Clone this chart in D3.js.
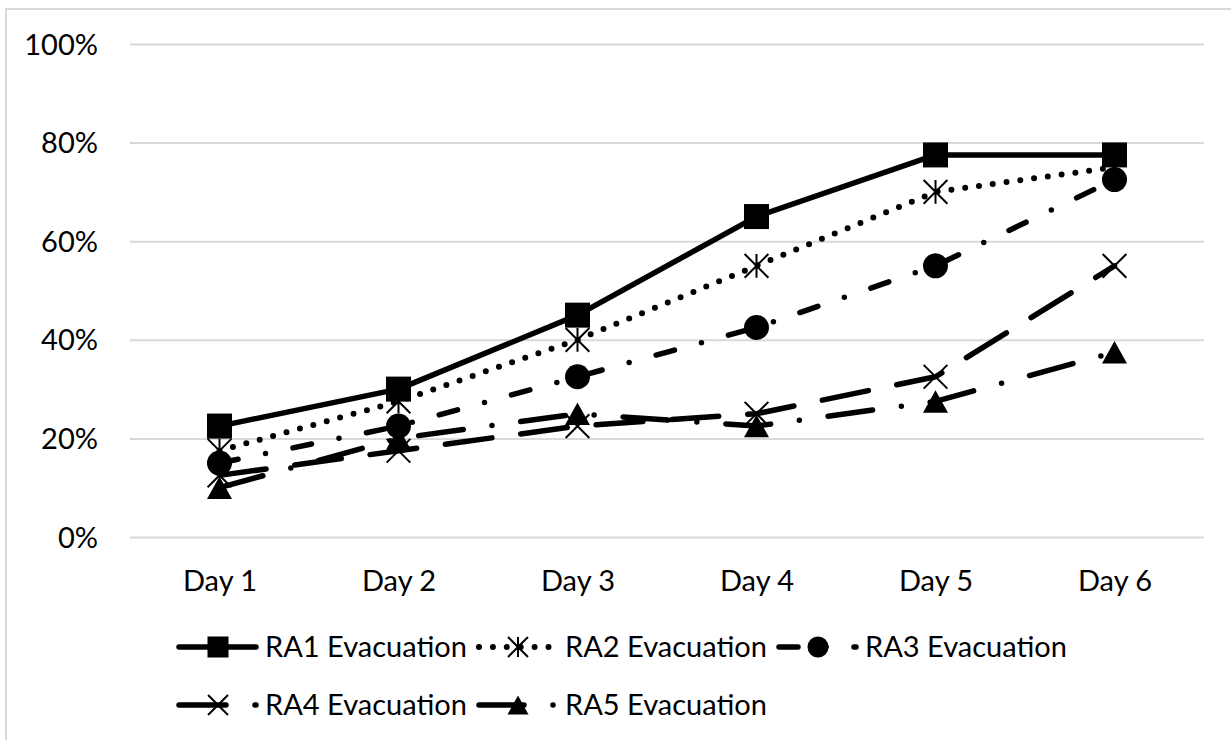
<!DOCTYPE html>
<html>
<head>
<meta charset="utf-8">
<script src="https://cdn.jsdelivr.net/npm/d3@7"></script>
<style>
  body { margin: 0; background: #fff; }
  svg { display: block; }
  text { font-family: Lato, "Open Sans", sans-serif; fill: #000; }
</style>
</head>
<body>
<div id="chart"></div>
<script>
// chart values
var days = ["Day 1", "Day 2", "Day 3", "Day 4", "Day 5", "Day 6"];
var seriesNames = ["RA1 Evacuation", "RA2 Evacuation", "RA3 Evacuation", "RA4 Evacuation", "RA5 Evacuation"];
var ra1 = [0.225, 0.30, 0.45, 0.65, 0.775, 0.775];
var ra2 = [0.175, 0.275, 0.40, 0.55, 0.70, 0.75];
var ra3 = [0.15, 0.225, 0.325, 0.425, 0.55, 0.725];
var ra4 = [0.125, 0.175, 0.225, 0.25, 0.325, 0.55];
var ra5 = [0.10, 0.20, 0.25, 0.225, 0.275, 0.375];
var yTicks = [0, 0.2, 0.4, 0.6, 0.8, 1.0];

var seriesValues = [ra1, ra2, ra3, ra4, ra5];

// line look per series
var styles = [
  {dash: null,            marker: "square"},
  {dash: "0 13.9",        marker: "asterisk"},
  {dash: "19 28 0 28",    marker: "circle"},
  {dash: "47 29",         marker: "x"},
  {dash: "45 29 0 29",    marker: "triangle"}
];

var W = 1231, H = 740;
var plotLeft = 130, plotRight = 1204, plotTop = 44, plotBottom = 537;

var svg = d3.select("#chart").append("svg")
    .attr("width", W)
    .attr("height", H);

// chart frame
svg.append("rect")
    .attr("x", 6).attr("y", 9)
    .attr("width", 1240).attr("height", 760)
    .attr("fill", "#fff")
    .attr("stroke", "#d9d9d9")
    .attr("stroke-width", 2);

var x = d3.scalePoint()
    .domain(days)
    .range([plotLeft, plotRight])
    .padding(0.5);

var y = d3.scaleLinear()
    .domain([0, 1])
    .range([plotBottom, plotTop]);

var yAxis = d3.axisLeft(y)
    .tickValues(yTicks)
    .tickFormat(d3.format(".0%"))
    .tickSize(-(plotRight - plotLeft))
    .tickPadding(32);

var gy = svg.append("g")
    .attr("transform", "translate(" + plotLeft + ",0)")
    .call(yAxis);
gy.select(".domain").remove();
gy.selectAll(".tick line")
    .attr("stroke", "#d9d9d9")
    .attr("stroke-width", 2);
gy.selectAll(".tick text")
    .attr("font-size", 29)
    .attr("font-family", "Lato")
    .attr("dy", "0.35em");

var xAxis = d3.axisBottom(x)
    .tickSize(0)
    .tickPadding(0);

var gx = svg.append("g")
    .attr("transform", "translate(0," + plotBottom + ")")
    .call(xAxis);
gx.select(".domain").remove();
gx.selectAll(".tick text")
    .attr("font-size", 29)
    .attr("font-family", "Lato")
    .attr("y", 54)
    .attr("dy", 0);

function drawMarker(g, type, s) {
  var h = s / 2;
  if (type == "square") {
    g.append("rect").attr("x", -h).attr("y", -h).attr("width", s).attr("height", s).attr("fill", "#000");
  } else if (type == "circle") {
    g.append("circle").attr("r", h).attr("fill", "#000");
  } else if (type == "triangle") {
    g.append("path")
      .attr("d", "M0," + (-h * 0.9) + "L" + h + "," + (h * 0.9) + "L" + (-h) + "," + (h * 0.9) + "Z")
      .attr("fill", "#000");
  } else {
    var k = h * 0.95;
    var p = "M" + (-k) + "," + (-k) + "L" + k + "," + k + "M" + (-k) + "," + k + "L" + k + "," + (-k);
    if (type == "asterisk") p += "M0," + (-k) + "L0," + k;
    g.append("path").attr("d", p).attr("stroke", "#000").attr("stroke-width", 2).attr("fill", "none");
  }
}

var line = d3.line()
    .x(function(d, i) { return x(days[i]); })
    .y(function(d) { return y(d); });

seriesValues.forEach(function(vals, si) {
  var st = styles[si];
  var g = svg.append("g").attr("class", "series");
  g.append("path")
      .datum(vals)
      .attr("d", line)
      .attr("fill", "none")
      .attr("stroke", "#000")
      .attr("stroke-width", si == 1 ? 6 : 5.5)
      .attr("stroke-linecap", "round")
      .attr("stroke-linejoin", "round")
      .attr("stroke-dasharray", st.dash);

  g.selectAll(".mk")
      .data(vals)
    .enter().append("g")
      .attr("class", "mk")
      .attr("transform", function(d, i) { return "translate(" + x(days[i]) + "," + y(d) + ")"; })
      .each(function() { drawMarker(d3.select(this), st.marker, 25); });
});

// legend
var legend = svg.append("g").attr("class", "legend");
seriesNames.forEach(function(name, si) {
  var st = styles[si];
  var row = si < 3 ? 0 : 1;
  var col = si < 3 ? si : si - 3;
  var lx = 179 + col * 300;
  var ly = row == 0 ? 647 : 705;
  var item = legend.append("g").attr("transform", "translate(" + lx + "," + ly + ")");
  item.append("line")
      .attr("x1", 0).attr("x2", 77)
      .attr("y1", 0).attr("y2", 0)
      .attr("stroke", "#000")
      .attr("stroke-width", si == 1 ? 6 : 5.5)
      .attr("stroke-linecap", "round")
      .attr("stroke-dasharray", st.dash);
  var m = item.append("g").attr("transform", "translate(39,0)");
  drawMarker(m, st.marker, 21);
  item.append("text")
      .attr("x", 86)
      .attr("y", 10)
      .attr("font-size", 29)
      .text(name);
});
</script>
</body>
</html>
